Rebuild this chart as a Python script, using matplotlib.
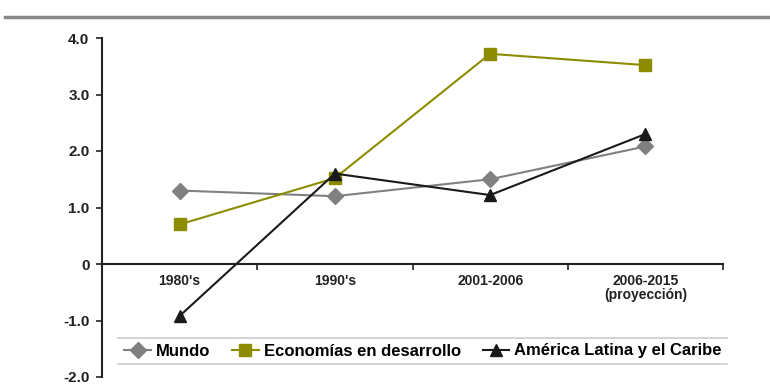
import matplotlib
matplotlib.use("Agg")
import matplotlib.pyplot as plt
from matplotlib.lines import Line2D

plt.rcParams['font.family'] = ['Liberation Sans', 'DejaVu Sans']

categories = ["1980's", "1990's", "2001-2006", "2006-2015\n(proyección)"]
mundo = [1.3, 1.2, 1.5, 2.08]
economias = [0.7, 1.52, 3.72, 3.52]
alc = [-0.92, 1.6, 1.22, 2.3]
yticks = [-2.0, -1.0, 0, 1.0, 2.0, 3.0, 4.0]
ytick_labels = ["-2.0", "-1.0", "0", "1.0", "2.0", "3.0", "4.0"]

fig = plt.figure(figsize=(7.7, 3.9), dpi=100)
ax = fig.add_axes([102/770, 1-377/390, (723-102)/770, (377-38)/390])

x = list(range(len(categories)))
ax.plot(x, mundo, color='#808080', marker='D', markersize=8, lw=1.5, label='Mundo', zorder=3)
ax.plot(x, economias, color='#8c8c00', marker='s', markersize=8, lw=1.5, label='Economías en desarrollo', zorder=3)
ax.plot(x, alc, color='#1a1a1a', marker='^', markersize=8, lw=1.5, label='América Latina y el Caribe', zorder=3)

ax.set_xlim(-0.5, 3.5)
ax.set_ylim(-2.0, 4.0)
ax.spines['top'].set_visible(False)
ax.spines['right'].set_visible(False)
ax.spines['bottom'].set_position(('data', 0))
ax.spines['left'].set_linewidth(1.5)
ax.spines['bottom'].set_linewidth(1.5)
ax.spines['left'].set_color('#222222')
ax.spines['bottom'].set_color('#222222')

ax.set_yticks(yticks)
ax.set_yticklabels(ytick_labels, fontsize=11, fontweight='bold', color='#222222')
ax.tick_params(axis='y', length=4, width=1.2, color='#222222', pad=5)

ax.set_xticks(x)
ax.set_xticklabels(categories, fontsize=10, fontweight='bold', color='#222222', linespacing=1.0)
ax.tick_params(axis='x', which='major', length=0, pad=7)
ax.set_xticks([0.5, 1.5, 2.5, 3.5], minor=True)
ax.tick_params(axis='x', which='minor', length=4, width=1.2, color='#222222', direction='out')

leg = ax.legend(loc='center', bbox_to_anchor=(0.5 + 0.017, 1 - (351-38)/339), ncol=3, frameon=False,
                prop={'weight': 'bold', 'size': 12}, handlelength=1.6, columnspacing=1.3,
                handletextpad=0.3, borderaxespad=0)

# legend box lines (top and bottom)
for yy in (338, 364):
    fig.add_artist(Line2D([118/770, 727/770], [1-yy/390, 1-yy/390], color='#cccccc', lw=1.2))

# top rule
fig.add_artist(Line2D([5/770, 1.0], [1-17/390, 1-17/390], color='#888888', lw=2.5))

fig.savefig('out.png', dpi=100)
